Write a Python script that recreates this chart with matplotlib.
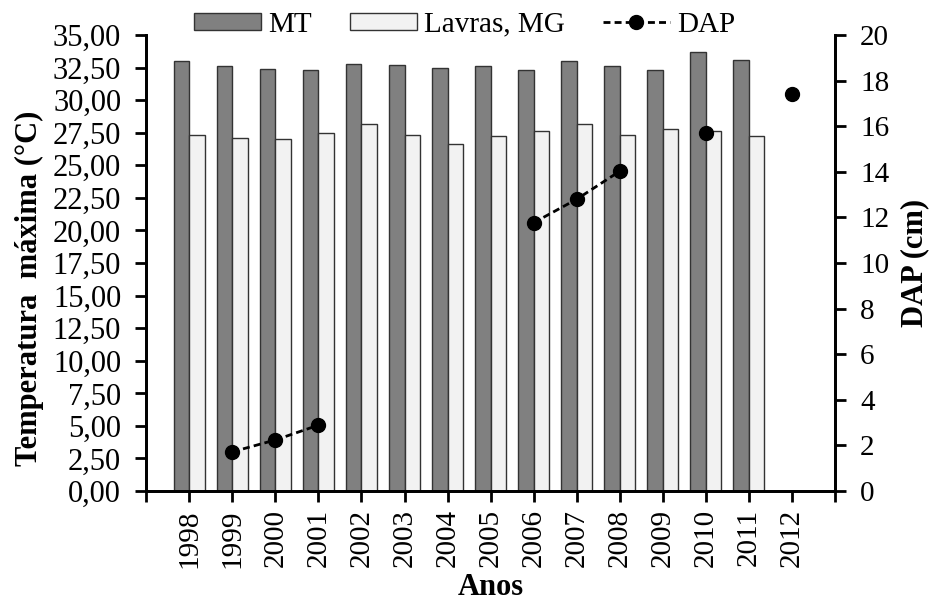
import numpy as np
import matplotlib.pyplot as plt
from matplotlib.ticker import FuncFormatter

plt.rcParams["font.family"] = ["Liberation Serif", "DejaVu Serif"]

# Dados
anos = ["1998", "1999", "2000", "2001", "2002", "2003", "2004", "2005",
        "2006", "2007", "2008", "2009", "2010", "2011", "2012"]
tmax_mt = [33.0, 32.6, 32.4, 32.3, 32.8, 32.7, 32.5, 32.6,
           32.3, 33.0, 32.6, 32.3, 33.7, 33.1, np.nan]
tmax_lavras = [27.35, 27.1, 27.0, 27.5, 28.2, 27.35, 26.65, 27.25,
               27.6, 28.2, 27.35, 27.8, 27.6, 27.25, np.nan]
dap = [np.nan, 1.72, 2.24, 2.89, np.nan, np.nan, np.nan, np.nan,
       11.77, 12.8, 14.03, np.nan, 15.7, np.nan, 17.4]

x = np.arange(len(anos))
w = 0.36

fig = plt.figure(figsize=(9.31, 6.04), dpi=100)
ax = fig.add_axes([0.157, 0.187, 0.74, 0.755])

ax.bar(x - w / 2, tmax_mt, w, color="#808080", edgecolor="#333333",
       linewidth=1, label="MT")
ax.bar(x + w / 2, tmax_lavras, w, color="#f2f2f2", edgecolor="#333333",
       linewidth=1, label="Lavras, MG")

ax.set_xlim(-1, len(anos))
ax.set_ylim(0, 35)
ax.set_yticks(np.arange(0, 35.01, 2.5))
ax.yaxis.set_major_formatter(FuncFormatter(lambda v, p: f"{v:.2f}".replace(".", ",")))
ax.set_xticks(np.arange(-1, len(anos) + 1))
ax.set_xticklabels([""] + anos + [""], rotation=90)

ax2 = ax.twinx()
ax2.plot(x, dap, linestyle=(0, (2.5, 1.5)), color="black", linewidth=2,
         marker="o", markersize=10, label="DAP")
ax2.set_ylim(0, 20)
ax2.set_yticks(np.arange(0, 21, 2))

for a in (ax, ax2):
    a.spines["top"].set_visible(False)
    for s in a.spines.values():
        s.set_linewidth(2)
    a.tick_params(direction="out", width=2, length=8, labelsize=21)
ax.tick_params(axis="x", pad=5)
ax.tick_params(axis="y", pad=10, labelsize=22)
ax2.tick_params(axis="y", pad=10)

ax.set_ylabel("Temperatura  máxima (°C)", fontsize=22, fontweight="bold")
ax.yaxis.set_label_coords(-0.149, 0.445)
ax.set_xlabel("Anos", fontsize=22, fontweight="bold", labelpad=4)
ax2.set_ylabel("DAP (cm)", fontsize=22, fontweight="bold", labelpad=8)

h1, l1 = ax.get_legend_handles_labels()
h2, l2 = ax2.get_legend_handles_labels()
fig.legend(h1 + h2, l1 + l2, loc="center", bbox_to_anchor=(0.499, 0.959),
           ncol=3, frameon=False, fontsize=21, handlelength=2.3,
           handleheight=0.55, columnspacing=1.3, handletextpad=0.25,
           borderpad=0)

fig.savefig("out.png", dpi=100)
